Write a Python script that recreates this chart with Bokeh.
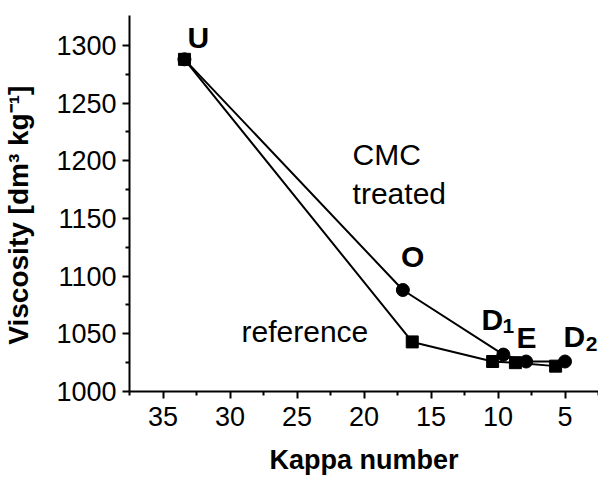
from bokeh.plotting import figure
from bokeh.models import Range1d, Label, FixedTicker
from bokeh.embed import file_html
from bokeh.resources import INLINE

# Data
kappa_ref = [33.4, 16.4, 10.4, 8.7, 5.7]
visc_ref = [1288, 1043, 1026, 1025, 1022]
kappa_cmc = [33.4, 17.1, 9.6, 7.9, 5.0]
visc_cmc = [1288, 1088, 1032, 1026, 1026]

x_ticks = [35, 30, 25, 20, 15, 10, 5]
x_minor = [37.5, 32.5, 27.5, 22.5, 17.5, 12.5, 7.5, 2.5]
y_ticks = [1000, 1050, 1100, 1150, 1200, 1250, 1300]
y_minor = [1025, 1075, 1125, 1175, 1225, 1275]

FONT = "Liberation Sans"

p = figure(width=598, height=477, output_backend="svg", toolbar_location=None,
           x_range=Range1d(37.5, 2.5), y_range=Range1d(1000, 1326),
           min_border_left=129, min_border_right=0, min_border_top=15,
           min_border_bottom=83)
p.outline_line_color = None
p.grid.visible = False
p.background_fill_color = "white"

for ax in (p.xaxis[0], p.yaxis[0]):
    ax.axis_line_width = 2
    ax.axis_line_color = "black"
    ax.major_tick_line_width = 2
    ax.minor_tick_line_width = 2
    ax.major_tick_in = 0
    ax.major_tick_out = 7
    ax.minor_tick_in = 0
    ax.minor_tick_out = 4
    ax.major_label_text_font = FONT
    ax.major_label_text_font_size = "27px"
    ax.major_label_text_color = "black"
    ax.axis_label_text_font = FONT
    ax.axis_label_text_font_style = "bold"
    ax.axis_label_text_color = "black"

p.xaxis.axis_label_text_font_size = "27px"
p.yaxis.axis_label_text_font_size = "28px"
p.xaxis.ticker = FixedTicker(ticks=x_ticks, minor_ticks=x_minor)
p.yaxis.ticker = FixedTicker(ticks=y_ticks, minor_ticks=y_minor)
p.xaxis.axis_label = "Kappa number"
# trailing no-break spaces move the centred title slightly toward the bottom, as in the reference
p.yaxis.axis_label = "Viscosity [dm³ kg⁻¹]\u00a0\u00a0\u00a0"
p.xaxis.major_label_standoff = 8
p.xaxis.axis_label_standoff = 16
p.yaxis.major_label_standoff = 6
p.yaxis.axis_label_standoff = 19

# CMC treated (circles)
p.line(kappa_cmc, visc_cmc, line_color="black", line_width=2)
p.scatter(kappa_cmc, visc_cmc, marker="circle", size=13, color="black")
# reference (squares)
p.line(kappa_ref, visc_ref, line_color="black", line_width=2)
p.scatter(kappa_ref, visc_ref, marker="square", size=12, color="black")

DY = 10.3  # vertical correction for text baseline placement

def lab(x, y, t, size, bold=False):
    p.add_layout(Label(x=x, y=y + DY, text=t, text_font=FONT, text_font_size=size,
                       text_font_style="bold" if bold else "normal",
                       text_color="black", text_align="left",
                       text_baseline="alphabetic"))

lab(33.17, 1296.6, "U", "30px", True)
lab(17.24, 1106.6, "O", "30px", True)
lab(11.23, 1052.4, "D", "30px", True)
lab(9.66, 1046.4, "1", "21px", True)
lab(8.62, 1036.1, "E", "30px", True)
lab(5.11, 1037.8, "D", "30px", True)
lab(3.45, 1031.0, "2", "21px", True)
lab(20.85, 1195.2, "CMC", "30px")
lab(20.85, 1161.6, "treated", "30px")
lab(29.14, 1042.1, "reference", "30px")

open("out.html", "w").write(file_html(p, INLINE))
